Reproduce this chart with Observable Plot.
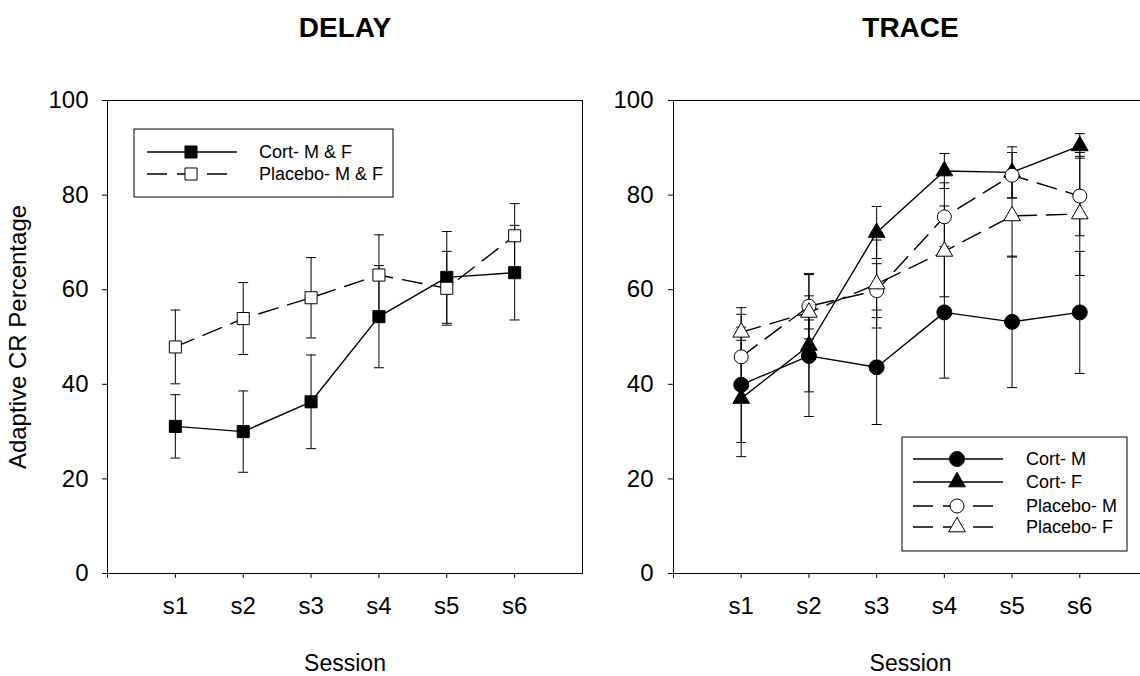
<!DOCTYPE html>
<html><head><meta charset="utf-8">
<script src="https://cdn.jsdelivr.net/npm/d3@7"></script>
<script src="https://cdn.jsdelivr.net/npm/@observablehq/plot@0.6"></script>
<style>
html,body{margin:0;padding:0;background:#fff;overflow:hidden;width:1140px;height:676px;}
#wrap{position:relative;width:1140px;height:676px;overflow:hidden;}
#left{position:absolute;left:0;top:0;width:620px;}
#right{position:absolute;left:620px;top:0;width:600px;}
svg{overflow:visible;max-width:none !important;}
</style></head><body><div id="wrap"><div id="left"></div><div id="right"></div></div>
<script>
// ---- data ----
const sessions = ["s1","s2","s3","s4","s5","s6"];
const sessionIndex = [1,2,3,4,5,6];
const yTicks = [0,20,40,60,80,100];

// DELAY panel
const delayNames = ["Cort- M & F","Placebo- M & F"];
const delayCortMean = [31.1, 30.0, 36.3, 54.3, 62.6, 63.6];
const delayCortSE   = [6.7, 8.6, 9.9, 10.8, 9.7, 10.0];
const delayPlaceboMean = [47.9, 53.9, 58.3, 63.1, 60.3, 71.4];
const delayPlaceboSE   = [7.8, 7.6, 8.5, 8.5, 7.8, 6.8];

// TRACE panel
const traceNames = ["Cort- M","Cort- F","Placebo- M","Placebo- F"];
const traceCortMMean = [39.9, 46.0, 43.6, 55.2, 53.2, 55.2];
const traceCortMSE   = [12.2, 7.6, 12.1, 13.9, 13.9, 12.9];
const traceCortFMean = [37.0, 48.2, 72.1, 85.1, 84.8, 90.4];
const traceCortFSE   = [12.3, 15.0, 5.5, 3.7, 5.4, 2.6];
const tracePlaceboMMean = [45.8, 56.5, 59.8, 75.4, 84.2, 79.8];
const tracePlaceboMSE   = [9.0, 6.9, 5.7, 7.2, 4.8, 8.4];
const tracePlaceboFMean = [51.0, 55.2, 61.2, 68.1, 75.6, 76.0];
const tracePlaceboFSE   = [5.2, 3.5, 9.3, 9.6, 8.7, 13.0];

// ---- styles ----
const FONT = "'Liberation Sans', Arial, Helvetica, sans-serif";
const capSymbol = {draw(ctx, size){ const w = Math.sqrt(size/Math.PI); ctx.moveTo(-w,0); ctx.lineTo(w,0); }};

const delaySeries = [
  {name: delayNames[0], mean: delayCortMean, se: delayCortSE, symbol: "square", r: 6.8, filled: true, dashed: false},
  {name: delayNames[1], mean: delayPlaceboMean, se: delayPlaceboSE, symbol: "square", r: 6.8, filled: false, dashed: true}
];
const traceSeries = [
  {name: traceNames[0], mean: traceCortMMean, se: traceCortMSE, symbol: "circle", r: 7.5, filled: true, dashed: false},
  {name: traceNames[1], mean: traceCortFMean, se: traceCortFSE, symbol: "triangle", r: 6.2, filled: true, dashed: false},
  {name: traceNames[2], mean: tracePlaceboMMean, se: tracePlaceboMSE, symbol: "circle", r: 7, filled: false, dashed: true},
  {name: traceNames[3], mean: tracePlaceboFMean, se: tracePlaceboFSE, symbol: "triangle", r: 6.2, filled: false, dashed: true}
];
const d3Sym = {circle: d3.symbolCircle, square: d3.symbolSquare, triangle: d3.symbolTriangle};

function panel({series, title, yLabel, width, marginLeft, marginRight, tickPadY, fullFrame}) {
  const data = series.flatMap(s => s.mean.map((m, i) => ({name: s.name, x: sessionIndex[i], y: m, lo: m - s.se[i], hi: m + s.se[i]})));
  const frameMarks = fullFrame
    ? [Plot.frame({stroke: "#000", strokeWidth: 1})]
    : [Plot.ruleY([0, 100], {stroke: "#000", strokeWidth: 1}), Plot.ruleX([0], {stroke: "#000", strokeWidth: 1})];
  const marks = [
    ...frameMarks,
    Plot.ruleX(data, {x: "x", y1: "lo", y2: "hi", stroke: "#000", strokeWidth: 1}),
    Plot.dot(data, {x: "x", y: "lo", symbol: capSymbol, r: 5, fill: "none", stroke: "#000", strokeWidth: 1}),
    Plot.dot(data, {x: "x", y: "hi", symbol: capSymbol, r: 5, fill: "none", stroke: "#000", strokeWidth: 1}),
    ...series.map(s => Plot.line(data.filter(d => d.name === s.name), {x: "x", y: "y", stroke: "#000", strokeWidth: 1.4, strokeDasharray: s.dashed ? "20,10" : null})),
    ...series.map(s => Plot.dot(data.filter(d => d.name === s.name), {x: "x", y: "y", symbol: s.symbol, r: s.r, fill: s.filled ? "#000" : "#fff", stroke: "#000", strokeWidth: 1})),
    Plot.text([title], {frameAnchor: "top", dy: -72, text: d => d, fontSize: 28, fontWeight: "bold", textAnchor: "middle", lineAnchor: "middle"}),
    Plot.text(["Session"], {frameAnchor: "bottom", dy: 90, text: d => d, fontSize: 23, textAnchor: "middle", lineAnchor: "middle"})
  ];
  if (yLabel) marks.push(Plot.text([yLabel], {frameAnchor: "left", dx: -89, rotate: -90, text: d => d, fontSize: 24, textAnchor: "middle", lineAnchor: "middle", style: "letter-spacing:1px"}));
  return Plot.plot({
    width, height: 676,
    marginTop: 100, marginBottom: 103, marginLeft, marginRight,
    style: {fontFamily: FONT, fontSize: "24px", color: "#000", background: "transparent"},
    x: {domain: [0, 7], ticks: [0,1,2,3,4,5,6], tickFormat: d => d === 0 ? "" : sessions[d - 1], tickSize: 5, tickPadding: 18, label: null},
    y: {domain: [0, 100], ticks: yTicks, tickSize: 5, tickPadding: tickPadY, label: null},
    marks
  });
}

function addLegend(svg, series, box, rows, lineX, markX, textX, fontSize) {
  const g = d3.select(svg).append("g");
  g.append("rect").attr("x", box[0]).attr("y", box[1]).attr("width", box[2]).attr("height", box[3])
    .attr("fill", "#fff").attr("stroke", "#000").attr("stroke-width", 1);
  series.forEach((s, i) => {
    const y = rows[i];
    g.append("line").attr("x1", lineX[0]).attr("x2", lineX[1]).attr("y1", y).attr("y2", y)
      .attr("stroke", "#000").attr("stroke-width", 1.4).attr("stroke-dasharray", s.dashed ? "20,10" : null);
    g.append("path").attr("d", d3.symbol(d3Sym[s.symbol], Math.PI * s.r * s.r)())
      .attr("transform", `translate(${markX},${y})`)
      .attr("fill", s.filled ? "#000" : "#fff").attr("stroke", "#000").attr("stroke-width", 1);
    g.append("text").attr("x", textX).attr("y", y).attr("dy", "0.35em").attr("font-size", fontSize)
      .attr("text-anchor", "start").attr("font-family", FONT).attr("fill", "#000").text(s.name);
  });
}

const left = panel({series: delaySeries, title: "DELAY", yLabel: "Adaptive CR Percentage", width: 620, marginLeft: 107, marginRight: 38, tickPadY: 14, fullFrame: true});
addLegend(left, delaySeries, [134, 129, 259, 68], [152, 174], [147, 237], 191, 259, 18);
document.getElementById("left").appendChild(left);

const right = panel({series: traceSeries, title: "TRACE", yLabel: null, width: 530, marginLeft: 53, marginRight: 3, tickPadY: 15, fullFrame: false});
addLegend(right, traceSeries, [282, 437, 225, 114], [459, 482, 506, 527], [293, 383], 337, 406, 18);
document.getElementById("right").appendChild(right);
</script>
</body></html>
